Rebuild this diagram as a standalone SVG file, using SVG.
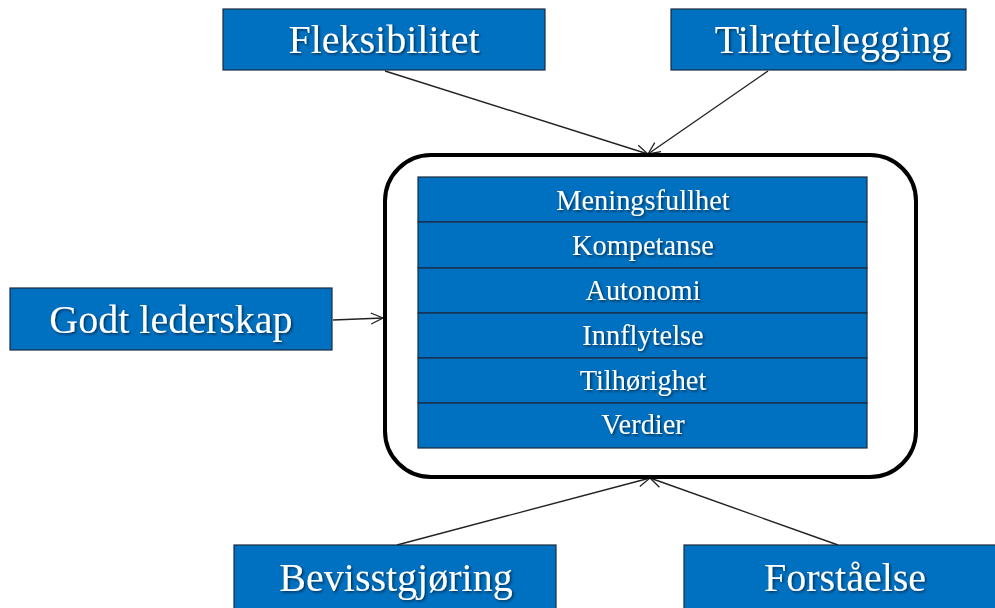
<svg xmlns="http://www.w3.org/2000/svg" width="995" height="608" viewBox="0 0 995 608">
  <defs>
    <filter id="txtShadow" x="-10%" y="-30%" width="120%" height="160%">
      <feDropShadow dx="1.5" dy="1.5" stdDeviation="0.8" flood-color="#000000" flood-opacity="0.55"/>
    </filter>
    <marker id="openArrow" viewBox="0 0 14 14" refX="13" refY="7" markerWidth="14" markerHeight="14" markerUnits="userSpaceOnUse" orient="auto">
      <path d="M1,1.5 L13,7 L1,12.5" fill="none" stroke="#222" stroke-width="1.3"/>
    </marker>
  </defs>
  <style>
    .box { fill: #0070C0; stroke: #1b2a3f; stroke-width: 1.2; }
    .cell { fill: #0070C0; stroke: #1b2a3f; stroke-width: 1.2; }
    .big { font-family: "Liberation Serif", "Times New Roman", serif; font-size: 40px; fill: #ffffff; text-anchor: middle; filter: url(#txtShadow); }
    .small { font-family: "Liberation Serif", "Times New Roman", serif; font-size: 28.4px; fill: #ffffff; text-anchor: middle; filter: url(#txtShadow); }
    .conn { stroke: #222; stroke-width: 1.4; fill: none; marker-end: url(#openArrow); }
  </style>
  <rect width="995" height="608" fill="#ffffff"/>

  <!-- connectors -->
  <g id="connectors">
    <line class="conn" x1="385" y1="71" x2="648" y2="154"/>
    <line class="conn" x1="768" y1="71" x2="648" y2="154"/>
    <line class="conn" x1="333" y1="320" x2="383" y2="318"/>
    <line class="conn" x1="397" y1="545" x2="650" y2="478"/>
    <line class="conn" x1="838" y1="545" x2="650" y2="478"/>
  </g>

  <!-- central container with the six factors -->
  <g id="core">
    <rect x="385" y="155" width="531" height="322" rx="46" ry="46" fill="#ffffff" stroke="#000" stroke-width="4"/>
    <g id="factors">
      <rect class="cell" x="418" y="177" width="449" height="45"/>
      <rect class="cell" x="418" y="222" width="449" height="46"/>
      <rect class="cell" x="418" y="268" width="449" height="45"/>
      <rect class="cell" x="418" y="313" width="449" height="45"/>
      <rect class="cell" x="418" y="358" width="449" height="45"/>
      <rect class="cell" x="418" y="403" width="449" height="45"/>
      <text class="small" x="643" y="210">Meningsfullhet</text>
      <text class="small" x="643" y="255">Kompetanse</text>
      <text class="small" x="643" y="300">Autonomi</text>
      <text class="small" x="643" y="345">Innflytelse</text>
      <text class="small" x="643" y="390">Tilhørighet</text>
      <text class="small" x="643" y="434">Verdier</text>
    </g>
  </g>

  <g id="fleksibilitet">
    <rect class="box" x="223" y="9" width="322" height="61"/>
    <text class="big" x="384" y="53">Fleksibilitet</text>
  </g>

  <g id="tilrettelegging">
    <rect class="box" x="671" y="9" width="295" height="61"/>
    <text class="big" x="833" y="53">Tilrettelegging</text>
  </g>

  <g id="godt-lederskap">
    <rect class="box" x="10" y="288" width="322" height="62"/>
    <text class="big" x="171" y="333">Godt lederskap</text>
  </g>

  <g id="bevisstgjoring">
    <rect class="box" x="234" y="545" width="322" height="66"/>
    <text class="big" x="396" y="591">Bevisstgjøring</text>
  </g>

  <g id="forstaelse">
    <rect class="box" x="684" y="545" width="315" height="66"/>
    <text class="big" x="845" y="591">Forståelse</text>
  </g>
</svg>
